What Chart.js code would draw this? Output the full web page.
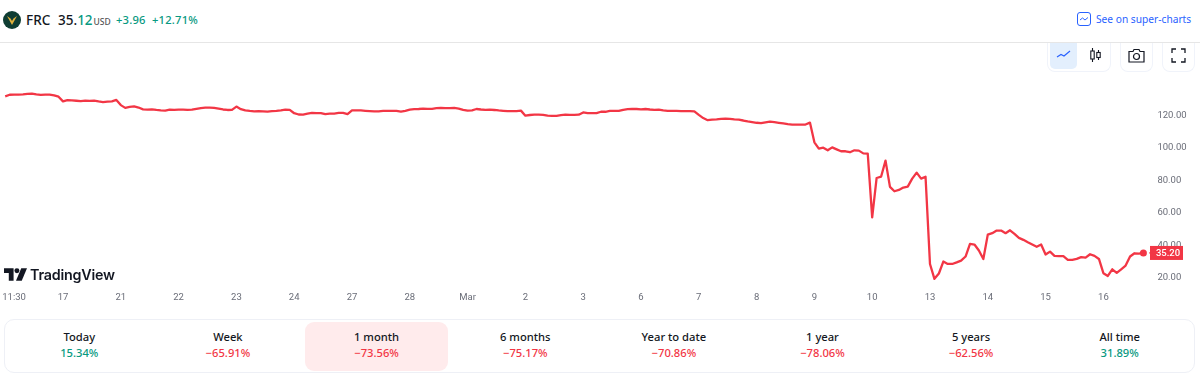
<!DOCTYPE html>
<html>
<head>
<meta charset="utf-8">
<title>FRC</title>
<script src="https://cdn.jsdelivr.net/npm/chart.js@4/dist/chart.umd.min.js"></script>
<style>
html, body { margin: 0; padding: 0; background: #fff; }
body { width: 1200px; height: 376px; position: relative; overflow: hidden; font-family: "Noto Sans", sans-serif; color: #131722; }
.abs { position: absolute; white-space: nowrap; }
#chart { position: absolute; left: 0; top: 43px; }
.green { color: #089981; }
.red { color: #f23645; }
#line { position: absolute; left: 0; top: 42px; width: 1200px; height: 1px; background: #e6e6e6; }
.btn { position: absolute; box-sizing: border-box; border: 1px solid #f0f3fa; border-top: 0; border-radius: 0 0 8px 8px; background: #fff; }
#cards { position: absolute; left: 4px; top: 319px; width: 1191px; height: 54px; box-sizing: border-box; border: 1px solid #eef0f6; border-radius: 10px; display: flex; }
.card { width: 148.9px; text-align: center; font-size: 11.2px; font-weight: 500; line-height: 16px; padding-top: 9px; box-sizing: border-box; }
.card b { display: block; font-weight: 500; }
.card.on { background: #ffebec; border-radius: 9px; width: 143px; height: 49px; margin: 2px 3px 0 3px; padding-top: 7px; }
</style>
</head>
<body>
<svg class="abs" style="left:3px;top:11px" width="18" height="18" viewBox="0 0 18 18">
  <circle cx="9" cy="9" r="9" fill="#0f3d33"/>
  <path d="M4 5 L9 14 L14 5 L10.5 7.5 L9 10 L7.5 7.5 Z" fill="#e0b13c"/>
</svg>
<div class="abs" style="left:26px;top:10px;font-size:13.5px;font-weight:500;line-height:20px">FRC</div>
<div class="abs" style="left:58px;top:10px;font-size:13.5px;font-weight:500;line-height:20px">35.<span class="green">12</span><span style="font-size:8.5px;color:#555;margin-left:1px">USD</span></div>
<div class="abs green" style="left:116px;top:10px;font-size:11.2px;font-weight:500;line-height:20px;letter-spacing:.2px">+3.96</div>
<div class="abs green" style="left:152px;top:10px;font-size:11.2px;font-weight:500;line-height:20px;letter-spacing:.2px">+12.71%</div>

<svg class="abs" style="left:1077px;top:12px" width="14" height="14" viewBox="0 0 14 14" fill="none" stroke="#2962ff" stroke-width="1">
  <rect x=".5" y=".5" width="13" height="13" rx="2.5"/>
  <path d="M3 8 L5.5 6 L8 8 L11 5.5"/>
</svg>
<div class="abs" style="left:1096px;top:9px;font-size:10.2px;line-height:20px;color:#2962ff">See on super-charts</div>

<div id="line"></div>
<canvas id="chart" width="1200" height="270"></canvas>

<div class="btn" style="left:1047px;top:43px;width:64px;height:29px"></div>
<div class="abs" style="left:1050px;top:43px;width:27px;height:26px;background:#e3effd;border-radius:0 0 5px 5px"></div>
<svg class="abs" style="left:1056px;top:49px" width="16" height="12" viewBox="0 0 16 12" fill="none" stroke="#2962ff" stroke-width="1.2">
  <path d="M1 8 L5 5.5 L8 7 L14 2"/>
</svg>
<svg class="abs" style="left:1089px;top:47px" width="13" height="17" viewBox="0 0 13 17" fill="none" stroke="#131722" stroke-width="1.1">
  <path d="M3.5 1 V15 M9.5 3 V13"/>
  <rect x="1.8" y="4" width="3.4" height="8" fill="#fff"/>
  <rect x="7.8" y="5.5" width="3.4" height="5" fill="#fff"/>
</svg>
<div class="btn" style="left:1120px;top:43px;width:33px;height:29px"></div>
<svg class="abs" style="left:1128px;top:48px" width="17" height="15" viewBox="0 0 17 15" fill="none" stroke="#131722" stroke-width="1.2">
  <path d="M1 3.5 H5 L6 1.5 H11 L12 3.5 H16 V14 H1 Z"/>
  <circle cx="8.5" cy="8.5" r="3"/>
</svg>
<div class="btn" style="left:1162px;top:43px;width:33px;height:29px"></div>
<svg class="abs" style="left:1171px;top:48px" width="15" height="15" viewBox="0 0 15 15" fill="none" stroke="#131722" stroke-width="1.3">
  <path d="M1 5 V1 H5 M10 1 H14 V5 M14 10 V14 H10 M5 14 H1 V10"/>
</svg>

<svg class="abs" style="left:4px;top:268px" width="23" height="13" viewBox="0 0 24 13" fill="#131722">
  <path d="M0 0 H10 V13 H5 V5 H0 Z"/>
  <circle cx="13.5" cy="2.6" r="2.6"/>
  <path d="M18 0 H24 L18.5 13 H12.5 Z"/>
</svg>
<div class="abs" style="left:30px;top:264px;font-family:Inter,sans-serif;font-size:14.3px;font-weight:600;line-height:21px;letter-spacing:-.2px;color:#131722">TradingView</div>

<div id="cards"></div>

<script>
const closes = [
  131.9, 132.9, 133, 133, 133.2, 133.5, 133.6, 133.1, 132.8, 133, 133, 132.5, 131.7,
  128.8, 129.6, 129.4, 129.2, 129, 129.3, 129.1, 129.3, 128.8, 128.4, 128.6, 128.8, 129.7,
  126.5, 124.8, 125.4, 125.7, 125, 123.9, 123.7, 123.9, 123.5, 123.2, 123.1, 123.7, 123.6,
  123.7, 123.7, 123.6, 123.7, 124.2, 124.7, 124.9, 125, 124.8, 124.3, 123.8, 123.5, 123.6,
  125.6, 124, 123.2, 122.9, 122.7, 122.8, 122.7, 122.5, 122.8, 123, 123.3, 123.7, 123.6,
  121.5, 120.7, 120.6, 121.2, 121.7, 121.6, 121.6, 121, 121.2, 121.3, 121.7, 121.7, 121,
  123.3, 123.3, 123.2, 123, 122.8, 122.6, 122.7, 122.9, 123, 122.9, 122.9, 122.5, 123,
  123.7, 124, 124.1, 124.3, 124.2, 124.2, 124.6, 124.8, 124.6, 124.7, 124.8, 124.4, 123.6,
  123.1, 123.3, 124.1, 123.8, 123.6, 123.7, 123.5, 123.2, 123, 122.8, 122.8, 122.8, 123.1,
  120, 120.4, 120.6, 120.6, 120.5, 120, 119.8, 119.9, 120.3, 120.6, 120.5, 120.5, 120.6,
  122, 121.6, 121.6, 121.6, 122.4, 122.4, 122.9, 122.9, 122.9, 123.6, 124, 124.1, 124.1,
  123.9, 124.1, 123.8, 123.6, 123.7, 123.2, 123, 122.9, 122.9, 122.8, 122.8, 122.8, 122.7,
  120.5, 118.5, 117.2, 117.5, 117.7, 118, 118.1, 118, 117.7, 117.5, 117, 116.4, 116,
  115.6, 115.4, 115.9, 116.3, 116, 115.6, 115.2, 114.7, 114.4, 114.5, 114.5, 114.5, 115.7,
  103.5, 99.6, 100.2, 98.6, 100.4, 99.2, 98, 98, 97.4, 98.6, 98.4, 96.7, 96.5,
  57.2, 81.5, 82.3, 92.2, 76, 73.3, 74.1, 75.6, 76.2, 81.1, 84.8, 81.1, 82.3,
  28.4, 19.2, 22.5, 29.9, 28.4, 28.4, 29.4, 30.5, 33, 40.8, 40.4, 36.7, 31.5,
  46.5, 47.4, 49, 49, 47.4, 49.2, 47, 44.5, 43.3, 41.8, 40.4, 39, 40.4,
  34.2, 36, 33.4, 33.2, 33.2, 30.9, 30.9, 31.5, 32.6, 32.3, 34.4, 33.4, 31.5,
  22.7, 21, 25.1, 22.9, 25.1, 27.4, 33, 35, 34.8, 35.2
];
const timeLabels = ['11:30', '17', '21', '22', '23', '24', '27', '28', 'Mar', '2', '3', '6', '7', '8', '9', '10', '13', '14', '15', '16'];
const priceTicks = [20, 40, 60, 80, 100, 120];
const lastPrice = 35.20;

const periodNames = ['Today', 'Week', '1 month', '6 months', 'Year to date', '1 year', '5 years', 'All time'];
const periodChanges = ['15.34%', '\u221265.91%', '\u221273.56%', '\u221275.17%', '\u221270.86%', '\u221278.06%', '\u221262.56%', '31.89%'];

// one label on the 3rd bar, then one every 13 bars (a session)
const labels = closes.map((c, i) => {
  if (i === 2) return timeLabels[0];
  if (i % 13 === 0 && i > 0) return timeLabels[i / 13] || '';
  return '';
});

const priceTag = {
  id: 'priceTag',
  afterDatasetsDraw(chart) {
    const { ctx, scales } = chart;
    const y = scales.y.getPixelForValue(lastPrice);
    ctx.save();
    ctx.strokeStyle = '#f23645';
    ctx.beginPath();
    ctx.moveTo(1149, y);
    ctx.lineTo(1150, y);
    ctx.stroke();
    ctx.fillStyle = '#f23645';
    ctx.fillRect(1150, y - 7, 33, 14);
    ctx.fillStyle = '#fff';
    ctx.font = '500 9.5px Roboto';
    ctx.textBaseline = 'middle';
    ctx.textAlign = 'center';
    ctx.fillText(lastPrice.toFixed(2), 1168, y + 0.5);
    ctx.restore();
  }
};

new Chart(document.getElementById('chart').getContext('2d'), {
  type: 'line',
  data: {
    labels: labels,
    datasets: [{
      data: closes,
      borderColor: '#f23645',
      borderWidth: 2.3,
      borderJoinStyle: 'round',
      tension: 0,
      pointRadius: closes.map((c, i) => i === closes.length - 1 ? 3.5 : 0),
      pointBackgroundColor: '#f23645',
      pointBorderWidth: 0
    }]
  },
  options: {
    responsive: false,
    animation: false,
    layout: { padding: { left: 5.2 } },
    plugins: { legend: { display: false }, tooltip: { enabled: false } },
    scales: {
      x: {
        type: 'category',
        grid: { display: false, drawTicks: false },
        border: { display: false },
        afterFit(scale) { scale.height = 22; },
        ticks: {
          autoSkip: false,
          maxRotation: 0,
          padding: 1,
          color: '#6a6d78',
          font: { family: 'Roboto', size: 9.5 }
        }
      },
      y: {
        position: 'right',
        min: 11.7,
        max: 152.7,
        grid: { display: false, drawTicks: false },
        border: { display: false },
        afterFit(scale) { scale.width = 56.6; },
        afterBuildTicks(scale) { scale.ticks = priceTicks.map(v => ({ value: v })); },
        ticks: {
          padding: 14,
          color: '#6a6d78',
          font: { family: 'Roboto', size: 9.5 },
          callback: v => v.toFixed(2)
        }
      }
    }
  },
  plugins: [priceTag]
});

const cards = document.getElementById('cards');
periodNames.forEach((name, i) => {
  const d = document.createElement('div');
  d.className = 'card' + (i === 2 ? ' on' : '');
  const up = periodChanges[i].charAt(0) !== '\u2212';
  d.innerHTML = '<b>' + name + '</b><span class="' + (up ? 'green' : 'red') + '">' + periodChanges[i] + '</span>';
  cards.appendChild(d);
});
</script>
</body>
</html>
